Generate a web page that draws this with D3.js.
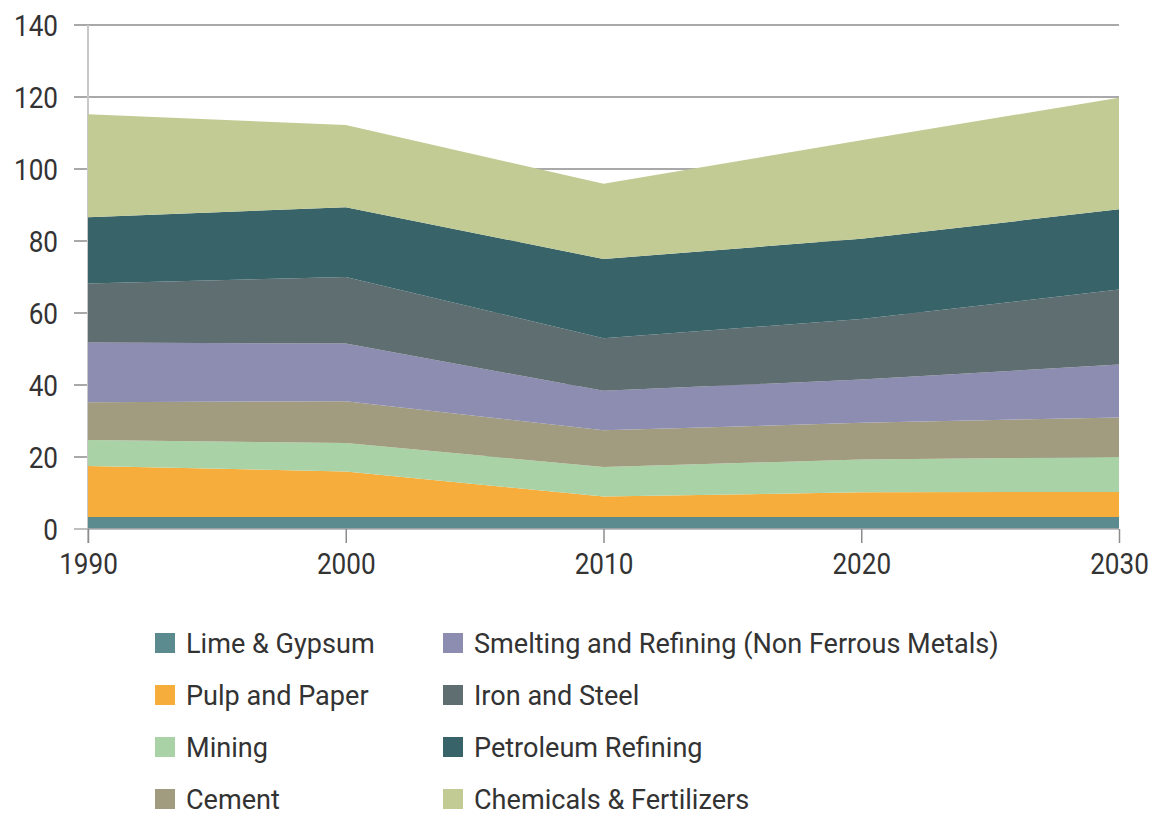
<!DOCTYPE html>
<html><head><meta charset="utf-8">
<script src="https://cdn.jsdelivr.net/npm/d3@7"></script>
<style>
body{margin:0;background:#fff}
text{font-family:Roboto,"Noto Sans",sans-serif;fill:#333}
</style>
</head><body>
<svg id="chart" width="1162" height="815"></svg>
<script>
const years = [1990, 2000, 2010, 2020, 2030];
const seriesNames = ["Lime & Gypsum","Pulp and Paper","Mining","Cement",
  "Smelting and Refining (Non Ferrous Metals)","Iron and Steel","Petroleum Refining","Chemicals & Fertilizers"];
const limeGypsum   = [3.3, 3.3, 3.3, 3.3, 3.3];
const pulpPaper    = [14.2, 12.7, 5.7, 6.9, 7.0];
const mining       = [7.2, 7.9, 8.2, 9.1, 9.7];
const cement       = [10.5, 11.6, 10.2, 10.2, 11.0];
const smelting     = [16.6, 16.0, 11.0, 12.0, 14.7];
const ironSteel    = [16.4, 18.5, 14.6, 16.8, 20.8];
const petroleum    = [18.4, 19.4, 22.0, 22.3, 22.3];
const chemicals    = [28.6, 22.8, 20.9, 27.4, 31.0];
const yTicks = [0, 20, 40, 60, 80, 100, 120, 140];
const colors = ["#5b8b8f","#f7ad3c","#a9d3a6","#a19c80","#8d8cb1","#5f6e71","#386369","#c2cb94"];

const seriesValues = [limeGypsum, pulpPaper, mining, cement, smelting, ironSteel, petroleum, chemicals];
const rows = years.map((y, i) => {
  const r = {year: y};
  seriesNames.forEach((n, k) => r[n] = seriesValues[k][i]);
  return r;
});

const svg = d3.select("#chart");
const x = d3.scaleLinear().domain([1990, 2030]).range([88, 1119]);
const y = d3.scaleLinear().domain([0, 140]).range([529, 25]);

// gridlines
svg.append("g").selectAll("line").data(yTicks.filter(d => d > 0)).join("line")
  .attr("x1", 74).attr("x2", 1119)
  .attr("y1", d => y(d)).attr("y2", d => y(d))
  .attr("stroke", "#8c8c8c").attr("stroke-width", 1.5);

// y axis vertical line
svg.append("line").attr("x1", x(1990)).attr("x2", x(1990))
  .attr("y1", y(140)).attr("y2", 543)
  .attr("stroke", "#c9c9c9").attr("stroke-width", 2);

// stacked areas
const stack = d3.stack().keys(seriesNames);
const layers = stack(rows);
const area = d3.area()
  .x(d => x(d.data.year))
  .y0(d => y(d[0]))
  .y1(d => y(d[1]));
svg.append("g").selectAll("path").data(layers).join("path")
  .attr("d", area)
  .attr("fill", (d, i) => colors[i]);

// baseline
svg.append("line").attr("x1", 74).attr("x2", 1119)
  .attr("y1", y(0)).attr("y2", y(0))
  .attr("stroke", "#aaaaaa").attr("stroke-width", 1.5);

// y labels
const yAxis = d3.axisLeft(y).tickValues(yTicks).tickSize(0).tickPadding(0);
const gy = svg.append("g").attr("transform", "translate(58,0)").call(yAxis);
gy.select(".domain").remove();
gy.selectAll("text").attr("font-size", 29).attr("fill", "#333")
  .style("font-family", "Roboto").attr("dy", "0.36em");

// x axis
const xAxis = d3.axisBottom(x).tickValues(years).tickFormat(d3.format("d"))
  .tickSize(14).tickPadding(10);
const gx = svg.append("g").attr("transform", `translate(0,${y(0)})`).call(xAxis);
gx.select(".domain").remove();
gx.selectAll(".tick line").attr("stroke", "#8c8c8c").attr("stroke-width", 1.5);
gx.selectAll("text").attr("font-size", 29).attr("fill", "#333").style("font-family", "Roboto");

// compress axis labels a little (condensed look)
svg.selectAll(".tick text").each(function() {
  const w = this.getComputedTextLength();
  d3.select(this).attr("textLength", w * 0.9).attr("lengthAdjust", "spacingAndGlyphs");
});

// legend
const leg = svg.append("g");
seriesNames.forEach((name, i) => {
  const col = Math.floor(i / 4), row = i % 4;
  const lx = col === 0 ? 155 : 443;
  const ly = 633 + row * 52;
  leg.append("rect").attr("x", lx).attr("y", ly).attr("width", 20).attr("height", 20)
    .attr("fill", colors[i]);
  const t = leg.append("text").attr("x", lx + 31).attr("y", ly + 10).attr("dy", "0.36em")
    .attr("font-size", 28.5).attr("fill", "#333").text(name);
  const w = t.node().getComputedTextLength();
  t.attr("textLength", w * 0.95).attr("lengthAdjust", "spacingAndGlyphs");
});
</script>
</body></html>
